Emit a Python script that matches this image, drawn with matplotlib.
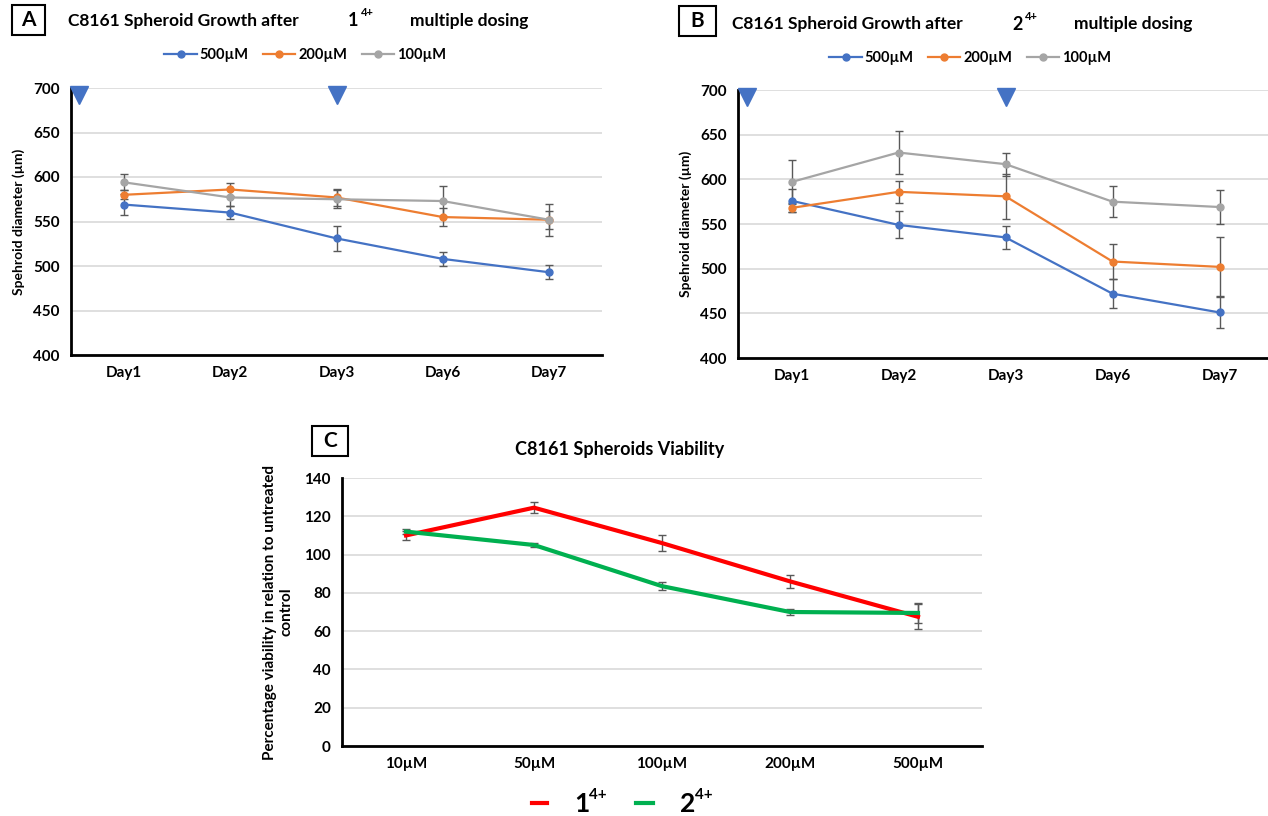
import matplotlib
matplotlib.use("Agg")
import matplotlib.pyplot as plt
from matplotlib.patches import Rectangle
from matplotlib.lines import Line2D

plt.rcParams['font.family'] = ['Lato', 'DejaVu Sans']
plt.rcParams['font.weight'] = 'bold'

days = ["Day1", "Day2", "Day3", "Day6", "Day7"]
doses = ["500µM", "200µM", "100µM"]
dose_colors = ["#4472C4", "#ED7D31", "#A5A5A5"]

# panel A (1 4+)
a_mean = [
    [569, 560, 531, 508, 493],
    [580, 586, 577, 555, 552],
    [594, 577, 575, 573, 552],
]
a_err = [
    [12, 7, 14, 8, 8],
    [5, 7, 10, 10, 10],
    [9, 10, 10, 17, 18],
]

# panel B (2 4+)
b_mean = [
    [576, 549, 535, 472, 451],
    [568, 586, 581, 508, 502],
    [597, 630, 617, 575, 569],
]
b_err = [
    [13, 15, 13, 16, 17],
    [5, 12, 25, 20, 33],
    [25, 24, 13, 17, 19],
]

# dosing days (triangles)
dose_pos = [-0.42, 2]

# panel C viability
conc = ["10µM", "50µM", "100µM", "200µM", "500µM"]
c_1 = [110, 124.5, 106, 86, 67.5]
c_1_err = [2.5, 3, 4, 3.5, 6.5]
c_2 = [112, 105, 83.5, 70, 69.5]
c_2_err = [1.5, 0.8, 2, 1.5, 5]

fig = plt.figure(figsize=(12.68, 8.16), dpi=100)
W, H = 1268, 816


def fx(x):
    return x / W


def fy(y):
    return 1 - y / H


def px_axes(x0, y0, x1, y1):
    return fig.add_axes([fx(x0), fy(y1), (x1 - x0) / W, (y1 - y0) / H])


def style(ax):
    ax.spines['top'].set_visible(False)
    ax.spines['right'].set_visible(False)
    ax.spines['left'].set_linewidth(2)
    ax.spines['bottom'].set_linewidth(2)
    ax.grid(axis='y', color='#D9D9D9', linewidth=1.2)
    ax.set_axisbelow(True)
    ax.tick_params(length=0, labelsize=11, pad=8)
    for lab in ax.get_xticklabels() + ax.get_yticklabels():
        lab.set_fontweight('bold')


def growth(ax, means, errs):
    x = range(len(days))
    for m, e, c in zip(means, errs, dose_colors):
        ax.errorbar(x, m, yerr=e, color=c, ecolor='#595959', elinewidth=1,
                    capsize=3, capthick=1, marker='o', markersize=5, linewidth=1.6)
    ax.plot(dose_pos, [692, 692], linestyle='none', marker='v', markersize=13,
            color='#4472C4', clip_on=False, zorder=5)
    ax.set_xlim(-0.5, 4.5)
    ax.set_ylim(400, 700)
    ax.set_yticks(range(400, 701, 50))
    ax.set_xticks(list(x))
    ax.set_xticklabels(days)
    ax.set_ylabel("Spehroid diameter (µm)", fontsize=10, fontweight='bold', labelpad=6)
    style(ax)
    handles = [Line2D([], [], color=c, marker='o', markersize=5, linewidth=1.6)
               for c in dose_colors]
    return handles


def letter_box(x0, y0, x1, y1, letter):
    fig.patches.append(Rectangle((fx(x0), fy(y1)), (x1 - x0) / W, (y1 - y0) / H,
                                 transform=fig.transFigure, fill=False,
                                 edgecolor='black', linewidth=1.5))
    fig.text(fx((x0 + x1) / 2), fy((y0 + y1) / 2), letter, fontsize=15,
             ha='center', va='center')


def growth_title(x, y, num):
    fig.text(fx(x), fy(y), "C8161 Spheroid Growth after", fontsize=12.5, va='center')
    fig.text(fx(x + 280), fy(y), num, fontsize=13, va='center')
    fig.text(fx(x + 293), fy(y - 8), "4+", fontsize=8, va='center')
    fig.text(fx(x + 342), fy(y), "multiple dosing", fontsize=12.5, va='center')


# Panel A
axA = px_axes(71, 88, 602, 355)
hA = growth(axA, a_mean, a_err)
letter_box(12, 5, 45, 35, "A")
growth_title(68, 21, "1")
axA.legend(hA, doses, loc='center', bbox_to_anchor=(fx(305), fy(55)),
           bbox_transform=fig.transFigure, ncol=3, frameon=False, fontsize=10.5,
           handlelength=2.2, columnspacing=1.0, handletextpad=0.2)

# Panel B
axB = px_axes(738, 90, 1273, 358)
hB = growth(axB, b_mean, b_err)
letter_box(679, 6, 716, 36, "B")
growth_title(732, 24, "2")
axB.legend(hB, doses, loc='center', bbox_to_anchor=(fx(970), fy(58)),
           bbox_transform=fig.transFigure, ncol=3, frameon=False, fontsize=10.5,
           handlelength=2.2, columnspacing=1.0, handletextpad=0.2)

# Panel C
axC = px_axes(342, 478, 982, 746)
xc = range(len(conc))
axC.errorbar(xc, c_1, yerr=c_1_err, color='#FF0000', ecolor='#595959',
             elinewidth=1, capsize=3, capthick=1, linewidth=3)
axC.errorbar(xc, c_2, yerr=c_2_err, color='#00B050', ecolor='#595959',
             elinewidth=1, capsize=3, capthick=1, linewidth=3)
axC.set_xlim(-0.5, 4.5)
axC.set_ylim(0, 140)
axC.set_yticks(range(0, 141, 20))
axC.set_xticks(list(xc))
axC.set_xticklabels(conc)
axC.set_ylabel("Percentage viability in relation to untreated\ncontrol",
               fontsize=11, fontweight='bold', labelpad=8)
style(axC)
letter_box(312, 426, 348, 456, "C")
fig.text(fx(620), fy(449), "C8161 Spheroids Viability", fontsize=13,
         ha='center', va='center')

# legend C, drawn by hand
for (x0, x1), c in zip([(532, 547), (636, 653)], ['#FF0000', '#00B050']):
    fig.add_artist(Line2D([fx(x0), fx(x1)], [fy(803), fy(803)], color=c,
                          linewidth=3, transform=fig.transFigure))
fig.text(fx(574), fy(804), "1", fontsize=19, va='center')
fig.text(fx(589), fy(795), "4+", fontsize=11, va='center')
fig.text(fx(680), fy(804), "2", fontsize=19, va='center')
fig.text(fx(695), fy(795), "4+", fontsize=11, va='center')

fig.savefig("out.png", dpi=100)
